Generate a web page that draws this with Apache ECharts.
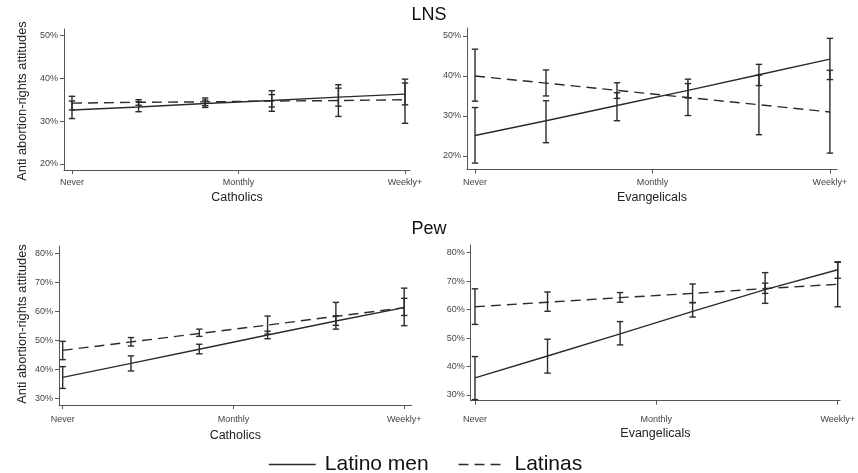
<!DOCTYPE html>
<html><head><meta charset="utf-8">
<script src="https://cdn.jsdelivr.net/npm/echarts@6/dist/echarts.min.js"></script>
<style>html,body{margin:0;padding:0;background:#fff}#c{width:858px;height:473px}</style>
</head><body><div id="c"></div>
<script>
// ---------- data ----------
const xPositions = [0, 1, 2, 3, 4, 5];
const xTickValues = [0, 2.5, 5];
const xTickLabels = ['Never', 'Monthly', 'Weekly+'];
const panelTitles = ['LNS', 'Pew'];
const groupNames = ['Catholics', 'Evangelicals', 'Catholics', 'Evangelicals'];
const seriesNames = ['Latino men', 'Latinas'];
const yTitle = 'Anti abortion-rights attitudes';
const lnsYTicks = [20, 30, 40, 50];
const pewYTicks = [30, 40, 50, 60, 70, 80];

// LNS – Catholics
const lnsCathMen   = [32.6, 33.3, 34.1, 34.8, 35.6, 36.3];
const lnsCathMenLo = [30.6, 32.2, 33.2, 33.3, 33.5, 33.8];
const lnsCathMenHi = [34.7, 34.5, 34.9, 36.2, 37.7, 38.9];
const lnsCathWom   = [34.2, 34.4, 34.5, 34.7, 34.8, 35.0];
const lnsCathWomLo = [32.6, 33.7, 33.6, 32.3, 31.1, 29.5];
const lnsCathWomHi = [35.8, 35.0, 35.4, 37.1, 38.5, 39.8];

// LNS – Evangelicals
const lnsEvanMen   = [25.1, 28.8, 32.6, 36.4, 40.3, 44.2];
const lnsEvanMenLo = [18.2, 23.3, 28.8, 34.5, 37.6, 39.1];
const lnsEvanMenHi = [32.1, 33.8, 35.8, 38.1, 42.9, 49.4];
const lnsEvanWom   = [40.0, 38.2, 36.4, 34.6, 32.8, 31.0];
const lnsEvanWomLo = [33.7, 35.0, 34.4, 30.1, 25.3, 20.7];
const lnsEvanWomHi = [46.7, 41.5, 38.3, 39.2, 40.2, 41.4];

// Pew – Catholics
const pewCathMen   = [37.3, 42.1, 47.0, 51.9, 56.7, 61.3];
const pewCathMenLo = [33.5, 39.5, 45.4, 50.6, 55.2, 58.6];
const pewCathMenHi = [41.0, 44.7, 48.7, 53.2, 58.5, 64.5];
const pewCathWom   = [46.6, 49.5, 52.4, 55.3, 58.3, 61.3];
const pewCathWomLo = [43.4, 48.1, 51.4, 52.2, 53.9, 55.1];
const pewCathWomHi = [49.7, 51.0, 53.9, 58.4, 63.1, 68.0];

// Pew – Evangelicals
const pewEvanMen   = [36.0, 43.7, 51.5, 59.4, 67.0, 74.0];
const pewEvanMenLo = [28.4, 37.7, 47.6, 57.4, 62.2, 71.0];
const pewEvanMenHi = [43.5, 49.6, 55.8, 62.4, 73.0, 76.8];
const pewEvanWom   = [61.0, 62.6, 64.2, 65.7, 67.4, 68.9];
const pewEvanWomLo = [54.8, 59.4, 62.6, 62.5, 65.7, 61.0];
const pewEvanWomHi = [67.3, 66.2, 66.0, 69.0, 69.3, 76.6];

// ---------- layout (pixels / axis extents) ----------
const panels = [
  {left: 64,  right: 410, top: 29,  bottom: 170, xmin: -0.12,  xmax: 5.075, ymin: 18.6, ymax: 51.5, ticks: lnsYTicks,
   labelMargin: 8, nameGap: 21,
   men: [lnsCathMen, lnsCathMenLo, lnsCathMenHi], wom: [lnsCathWom, lnsCathWomLo, lnsCathWomHi]},
  {left: 467, right: 837, top: 28,  bottom: 169.5, xmin: -0.113, xmax: 5.1, ymin: 16.6, ymax: 52.0, ticks: lnsYTicks,
   labelMargin: 8.5, nameGap: 21.5,
   men: [lnsEvanMen, lnsEvanMenLo, lnsEvanMenHi], wom: [lnsEvanWom, lnsEvanWomLo, lnsEvanWomHi]},
  {left: 59,  right: 411.7, top: 246, bottom: 405, xmin: -0.054, xmax: 5.11, ymin: 27.8, ymax: 82.5, ticks: pewYTicks,
   labelMargin: 10, nameGap: 24,
   men: [pewCathMen, pewCathMenLo, pewCathMenHi], wom: [pewCathWom, pewCathWomLo, pewCathWomHi]},
  {left: 470.7, right: 841.7, top: 245, bottom: 400.7, xmin: -0.059, xmax: 5.033, ymin: 28.0, ymax: 82.7, ticks: pewYTicks,
   labelMargin: 14, nameGap: 26,
   men: [pewEvanMen, pewEvanMenLo, pewEvanMenHi], wom: [pewEvanWom, pewEvanWomLo, pewEvanWomHi]}
];

const axisColor = '#555';
const labelColor = '#444';
const lineColor = '#2b2b2b';
const FONT = '"Liberation Sans", Arial, sans-serif';

const grids = [], xAxes = [], yAxes = [], series = [];

function errRender(params, api) {
  const x = api.value(0), lo = api.value(1), hi = api.value(2);
  const a = api.coord([x, lo]), b = api.coord([x, hi]);
  const w = 3.2;
  const st = {stroke: lineColor, lineWidth: 1.4};
  return {type: 'group', children: [
    {type: 'line', shape: {x1: a[0], y1: a[1], x2: b[0], y2: b[1]}, style: st},
    {type: 'line', shape: {x1: a[0] - w, y1: a[1], x2: a[0] + w, y2: a[1]}, style: st},
    {type: 'line', shape: {x1: b[0] - w, y1: b[1], x2: b[0] + w, y2: b[1]}, style: st}
  ]};
}

panels.forEach((p, i) => {
  grids.push({left: p.left, top: p.top, width: p.right - p.left, height: p.bottom - p.top, containLabel: false});
  xAxes.push({
    type: 'value', gridIndex: i, min: p.xmin, max: p.xmax,
    axisLine: {show: true, onZero: false, lineStyle: {color: axisColor, width: 1}},
    axisTick: {show: true, length: 4, customValues: xTickValues, lineStyle: {color: axisColor}},
    axisLabel: {customValues: xTickValues, margin: p.labelMargin, fontSize: 9, color: labelColor, fontFamily: FONT,
      formatter: v => xTickLabels[xTickValues.indexOf(v)] || ''},
    splitLine: {show: false},
    name: groupNames[i], nameLocation: 'middle', nameGap: p.nameGap,
    nameTextStyle: {fontSize: 12.5, color: '#222', fontFamily: FONT}
  });
  yAxes.push({
    type: 'value', gridIndex: i, min: p.ymin, max: p.ymax,
    axisLine: {show: true, onZero: false, lineStyle: {color: axisColor, width: 1}},
    axisTick: {show: true, length: 4, customValues: p.ticks, lineStyle: {color: axisColor}},
    axisLabel: {customValues: p.ticks, margin: 6, fontSize: 9, color: labelColor, fontFamily: FONT,
      formatter: v => v + '%'},
    splitLine: {show: false}
  });
  [[p.men, 'solid'], [p.wom, 'dashed']].forEach(([arr, type], k) => {
    const [vals, lo, hi] = arr;
    series.push({
      type: 'custom', name: seriesNames[k] + ' CI', xAxisIndex: i, yAxisIndex: i,
      renderItem: errRender, clip: false, silent: true,
      encode: {x: 0, y: [1, 2]},
      data: xPositions.map((x, j) => [x, lo[j], hi[j]])
    });
    series.push({
      type: 'line', name: seriesNames[k], xAxisIndex: i, yAxisIndex: i,
      showSymbol: false, symbol: 'none', silent: true,
      lineStyle: {color: lineColor, width: 1.4, type: type === 'dashed' ? [10, 6] : 'solid'},
      itemStyle: {color: lineColor},
      data: xPositions.map((x, j) => [x, vals[j]])
    });
  });
});

const chart = echarts.init(document.getElementById('c'), null, {renderer: 'canvas'});
chart.setOption({
  backgroundColor: '#fff',
  animation: false,
  title: [
    {text: panelTitles[0], left: 'center', top: 1, textStyle: {fontSize: 18, fontWeight: 'normal', color: '#111', fontFamily: FONT}},
    {text: panelTitles[1], left: 'center', top: 215, textStyle: {fontSize: 18, fontWeight: 'normal', color: '#111', fontFamily: FONT}}
  ],
  legend: {
    data: seriesNames, left: 263, top: 449, itemWidth: 47, itemHeight: 14, itemGap: 29,
    itemStyle: {opacity: 0},
    lineStyle: {width: 1.6},
    textStyle: {fontSize: 21, color: '#111', fontFamily: FONT, padding: [0, 0, 0, 4]},
    selectedMode: false
  },
  graphic: [
    {type: 'text', x: 22, y: 101, rotation: Math.PI / 2, style: {text: yTitle, fontSize: 12.8, fill: '#222', fontFamily: FONT, textAlign: 'center', textVerticalAlign: 'middle'}},
    {type: 'text', x: 22, y: 324, rotation: Math.PI / 2, style: {text: yTitle, fontSize: 12.8, fill: '#222', fontFamily: FONT, textAlign: 'center', textVerticalAlign: 'middle'}}
  ],
  grid: grids, xAxis: xAxes, yAxis: yAxes, series: series
});
</script>
</body></html>
